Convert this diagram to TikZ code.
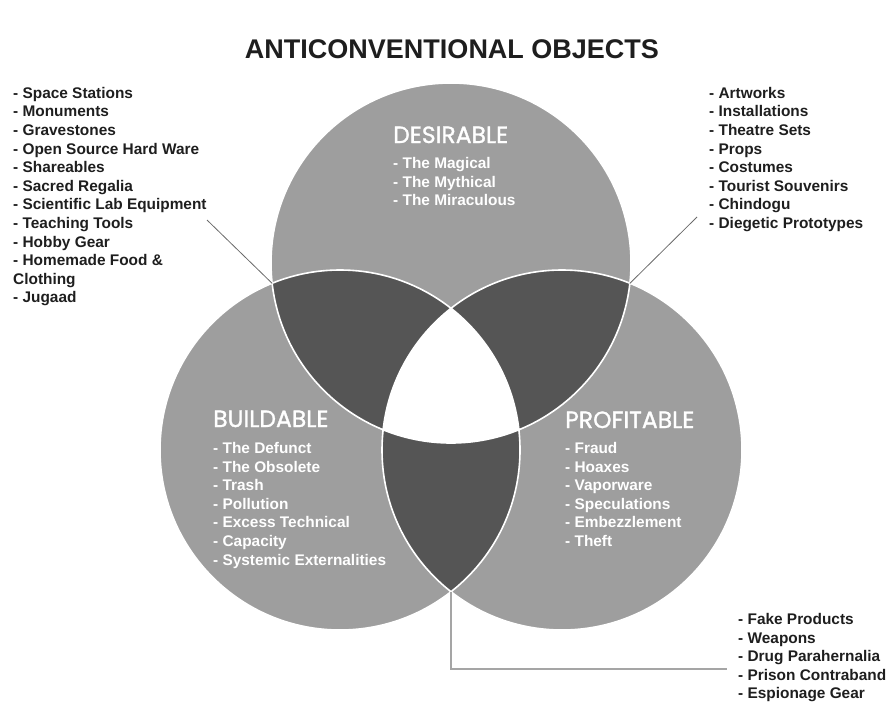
\documentclass[tikz,border=0pt]{standalone}
\usepackage{fontspec}
\setmainfont{Liberation Sans}
\newfontfamily\headfont{Poppins}[FakeBold=1.2]
\definecolor{ringgray}{HTML}{9E9E9E}
\definecolor{lensgray}{HTML}{555555}
\definecolor{inkgray}{HTML}{1E1E1E}
\definecolor{leadgray}{HTML}{6A6A6A}

\tikzset{
  ring/.style={fill=ringgray},
  lens/.style={fill=lensgray},
  listtext/.style={anchor=base west, inner sep=0pt, align=left, text=inkgray,
    font=\fontsize{15.4}{18.6}\selectfont\bfseries},
  settitle/.style={anchor=base west, inner sep=0pt, text=white,
    font=\fontsize{23.5}{25}\selectfont\headfont},
  setlist/.style={listtext, text=white},
  leader/.style={leadgray, line width=0.8pt}
}

\begin{document}
\begin{tikzpicture}[x=1pt, y=-1pt]
    \useasboundingbox (0,0) rectangle (890,704);

    % Circle centres and crossing points
    \coordinate (ctop) at (451,263);
    \coordinate (cleft) at (340,450);
    \coordinate (cright) at (562,450);
    \coordinate (vtl) at (272.2,283.4);
    \coordinate (vtr) at (629.8,283.4);
    \coordinate (vbot) at (451,591.7);

    % Draw circles
    \fill[ring] (ctop) circle (180pt);
    \fill[ring] (cleft) circle (180pt);
    \fill[ring] (cright) circle (180pt);
    \begin{scope}
        \clip (ctop) circle (180pt);
        \fill[lens] (cleft) circle (180pt);
        \fill[lens] (cright) circle (180pt);
    \end{scope}
    \begin{scope}
        \clip (cleft) circle (180pt);
        \fill[lens] (cright) circle (180pt);
    \end{scope}
    \begin{scope}
        \clip (ctop) circle (180pt);
        \clip (cleft) circle (180pt);
        \fill[white] (cright) circle (180pt);
    \end{scope}
    \draw[white, line width=1.6pt] (ctop) circle (180pt) (cleft) circle (180pt) (cright) circle (180pt);

    % Title
    \node[anchor=base, inner sep=0pt, text=inkgray, font=\fontsize{27}{30}\selectfont\bfseries]
        (title) at (452,58) {ANTICONVENTIONAL OBJECTS};

    % Sets (lists placed by their last baseline)
    \node[settitle] (desirable) at (393,143) {DESIRABLE};
    \node[setlist] (desirable-list) at (393,205.7) {- The Magical\\- The Mythical\\- The Miraculous};
    \node[settitle] (buildable) at (213,427) {BUILDABLE};
    \node[setlist] (buildable-list) at (213,565.1) {- The Defunct\\- The Obsolete\\- Trash\\- Pollution\\- Excess Technical\\- Capacity\\- Systemic Externalities};
    \node[settitle] (profitable) at (565,428) {PROFITABLE};
    \node[setlist] (profitable-list) at (565,546.5) {- Fraud\\- Hoaxes\\- Vaporware\\- Speculations\\- Embezzlement\\- Theft};

    % Outside lists
    \node[listtext] (left-list) at (13,302.8) {- Space Stations\\- Monuments\\- Gravestones\\- Open Source Hard Ware\\- Shareables\\- Sacred Regalia\\- Scientific Lab Equipment\\- Teaching Tools\\- Hobby Gear\\- Homemade Food \&\\Clothing\\- Jugaad};
    \node[listtext] (right-list) at (709,228.4) {- Artworks\\- Installations\\- Theatre Sets\\- Props\\- Costumes\\- Tourist Souvenirs\\- Chindogu\\- Diegetic Prototypes};
    \node[listtext] (bottom-list) at (738,698.9) {- Fake Products\\- Weapons\\- Drug Parahernalia\\- Prison Contraband\\- Espionage Gear};

    % Leaders
    \coordinate (ltl) at (207,220);
    \coordinate (ltr) at (697,217);
    \coordinate (lbot) at (727,669);
    \draw[leader] (ltl) -- (vtl);
    \draw[leader] (ltr) -- (vtr);
    \draw[leadgray!60, line width=1.6pt] (vbot) |- (lbot);
\end{tikzpicture}
\end{document}
